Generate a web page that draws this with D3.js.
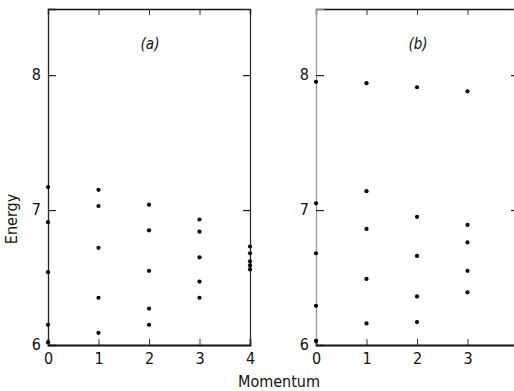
<!DOCTYPE html>
<html>
<head>
<meta charset="utf-8">
<script src="https://cdn.jsdelivr.net/npm/d3@7"></script>
<style>
body { margin: 0; background: #fff; }
svg text { font-family: "DejaVu Sans Condensed", "DejaVu Sans", sans-serif; fill: #111; }
</style>
</head>
<body>
<svg id="svg"></svg>
<script>
var width = 514, height = 391;

// momentum values of each level, and energies
var momentumA = [0, 0, 0, 0, 0,
	1, 1, 1, 1, 1,
	2, 2, 2, 2, 2,
	3, 3, 3, 3, 3,
	4, 4, 4, 4, 4];
var energyA = [7.17, 6.91, 6.54, 6.15, 6.02,
	7.15, 7.03, 6.72, 6.35, 6.09,
	7.04, 6.85, 6.55, 6.27, 6.15,
	6.93, 6.84, 6.65, 6.47, 6.35,
	6.73, 6.68, 6.62, 6.59, 6.56];

var momentumB = [0, 0, 0, 0, 0,
	1, 1, 1, 1, 1,
	2, 2, 2, 2, 2,
	3, 3, 3, 3, 3];
var energyB = [7.95, 7.05, 6.68, 6.29, 6.03,
	7.94, 7.14, 6.86, 6.49, 6.16,
	7.91, 6.95, 6.66, 6.36, 6.17,
	7.88, 6.89, 6.76, 6.55, 6.39];

var xTicks = [0, 1, 2, 3, 4];
var topTicks = [1, 2, 3];
var yTicks = [6, 7, 8];
var rightTicks = [7, 8];

var svg = d3.select("#svg")
	.attr("width", width)
	.attr("height", height);

var y = d3.scaleLinear()
	.domain([6, 8.49])
	.range([345, 9]);

function panel(x0, x1, mom, en, label, leftColor)
{
	var x = d3.scaleLinear()
		.domain([0, 4])
		.range([x0, x1]);

	var g = svg.append("g");

	// top axis
	g.append("g")
		.attr("transform", "translate(0," + y.range()[1] + ")")
		.call(d3.axisTop(x).tickValues(topTicks).tickSize(-6).tickFormat(""))
		.call(function(a) {
			a.select(".domain").attr("stroke", "#111").attr("stroke-width", 1.4);
			a.selectAll(".tick line").attr("stroke", "#333");
		});

	// right axis
	g.append("g")
		.attr("transform", "translate(" + x1 + ",0)")
		.call(d3.axisRight(y).tickValues(rightTicks).tickSize(-7).tickFormat(""))
		.call(function(a) {
			a.select(".domain").attr("stroke", "#222").attr("stroke-width", 1.2);
			a.selectAll(".tick line").attr("stroke", "#222").attr("stroke-width", 1.3);
		});

	// left axis
	g.append("g")
		.attr("transform", "translate(" + x0 + ",0)")
		.call(d3.axisLeft(y).tickValues(yTicks).tickSize(-8).tickPadding(7).tickFormat(d3.format("d")))
		.call(function(a) {
			a.select(".domain").attr("stroke", leftColor).attr("stroke-width", 1.3);
			a.selectAll(".tick line").attr("stroke", "#222").attr("stroke-width", 1.2);
			a.selectAll(".tick text").attr("font-size", "16px").attr("font-family", null).attr("dy", "0.3em");
		});

	// bottom axis
	g.append("g")
		.attr("transform", "translate(0," + y(6) + ")")
		.call(d3.axisBottom(x).tickValues(xTicks).tickSize(-6).tickPadding(8).tickFormat(d3.format("d")))
		.call(function(a) {
			a.select(".domain").attr("stroke", "#111").attr("stroke-width", 1.8);
			a.selectAll(".tick line").attr("stroke", "#333");
			a.selectAll(".tick text").attr("font-size", "16px").attr("font-family", null);
		});

	g.selectAll("circle.pt")
		.data(mom)
		.enter()
		.append("circle")
		.attr("class", "pt")
		.attr("cx", function(d) { return x(d); })
		.attr("cy", function(d, i) { return y(en[i]); })
		.attr("r", 2.1)
		.attr("fill", "#000");

	g.append("text")
		.attr("x", (x0 + x1) / 2 + 1)
		.attr("y", 49)
		.attr("text-anchor", "middle")
		.attr("font-size", "15px")
		.attr("font-style", "italic")
		.text(label);
}

panel(48, 250, momentumA, energyA, "(a)", "#222");
panel(316, 518, momentumB, energyB, "(b)", "#999");

svg.append("text")
	.attr("transform", "translate(17,219) rotate(-90)")
	.attr("text-anchor", "middle")
	.attr("font-size", "16px")
	.text("Energy");

svg.append("text")
	.attr("x", 279)
	.attr("y", 387)
	.attr("text-anchor", "middle")
	.attr("font-size", "16px")
	.text("Momentum");
</script>
</body>
</html>
